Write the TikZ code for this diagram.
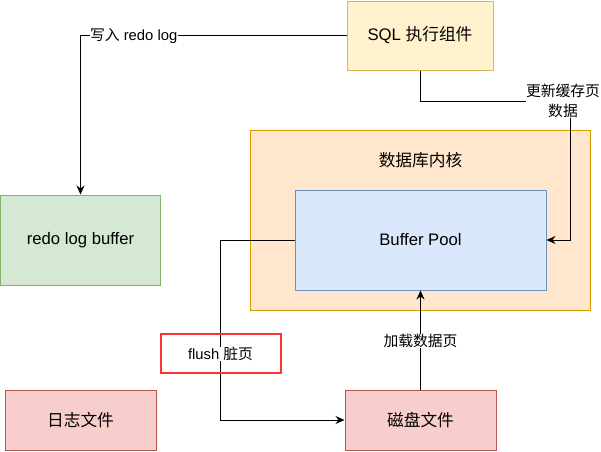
\documentclass[tikz,border=0pt]{standalone}
\usepackage{fontspec}
\setmainfont{Liberation Sans}
\newfontfamily\zhfont{Noto Sans CJK SC}
\newcommand{\zh}[1]{{\zhfont #1}}
\usetikzlibrary{arrows.meta,positioning}

\definecolor{sqlfill}{HTML}{FFF2CC}
\definecolor{sqlline}{HTML}{D6B656}
\definecolor{redofill}{HTML}{D5E8D4}
\definecolor{redoline}{HTML}{82B366}
\definecolor{corefill}{HTML}{FFE6CC}
\definecolor{coreline}{HTML}{D79B00}
\definecolor{poolfill}{HTML}{DAE8FC}
\definecolor{poolline}{HTML}{6C8EBF}
\definecolor{filefill}{HTML}{F8CECC}
\definecolor{fileline}{HTML}{B85450}
\definecolor{flushline}{HTML}{FF3333}

\begin{document}
\begin{tikzpicture}[x=1pt, y=-1pt,
    box/.style={draw, line width=1pt, inner sep=0pt, font=\fontsize{16.7}{19}\selectfont},
    link/.style={-{Stealth[length=9pt, width=8pt, inset=3pt]}, line width=1pt},
    tag/.style={fill=white, inner sep=0.5pt, font=\fontsize{14.8}{19.5}\selectfont}]
    \useasboundingbox (0,0) rectangle (601,451);

    % Boxes
    \node[box, fill=sqlfill, draw=sqlline, minimum width=146pt, minimum height=69pt]
        (sql) at (420,35.5) {SQL \zh{执行组件}};
    \node[box, fill=redofill, draw=redoline, minimum width=160pt, minimum height=90pt]
        (redo) at (80.5,240) {redo log buffer};
    \node[box, fill=corefill, draw=coreline, minimum width=340pt, minimum height=180pt]
        (core) at (420,220) {};
    \node[font=\fontsize{16.7}{19}\selectfont] (coretitle) at (420.5,160) {\zh{数据库内核}};
    \node[box, fill=poolfill, draw=poolline, minimum width=251pt, minimum height=100pt]
        (pool) at (420.5,240) {Buffer Pool};
    \node[box, fill=filefill, draw=fileline, minimum width=151pt, minimum height=60pt]
        (log) at (80.5,420) {\zh{日志文件}};
    \node[box, fill=filefill, draw=fileline, minimum width=151pt, minimum height=60pt]
        (disk) at (420.5,420) {\zh{磁盘文件}};

    % Bends
    \coordinate (upd) at (570,101);
    \coordinate (fl) at (220,240);

    % Connectors
    \draw[link] (sql.west) -| (redo.north) node[tag, pos=0.4] {\zh{写入} redo log};
    \draw[link] (sql.south) |- (upd) |- (pool.east);
    \node[tag, align=center] (updtag) at ([xshift=-7pt]upd) {\zh{更新缓存页}\\\zh{数据}};
    \draw[link] (pool.west) -- (fl) |- (disk.west);
    \draw[link] (disk.north) -- (pool.south) node[tag, pos=0.49] {\zh{加载数据页}};

    % Flush marker
    \node[draw=flushline, line width=2pt, minimum width=120pt, minimum height=39pt]
        (flush) at (220.5,353) {};
    \node[tag] (flushtag) at ([yshift=-1pt]flush.center) {flush \zh{脏页}};
\end{tikzpicture}
\end{document}
